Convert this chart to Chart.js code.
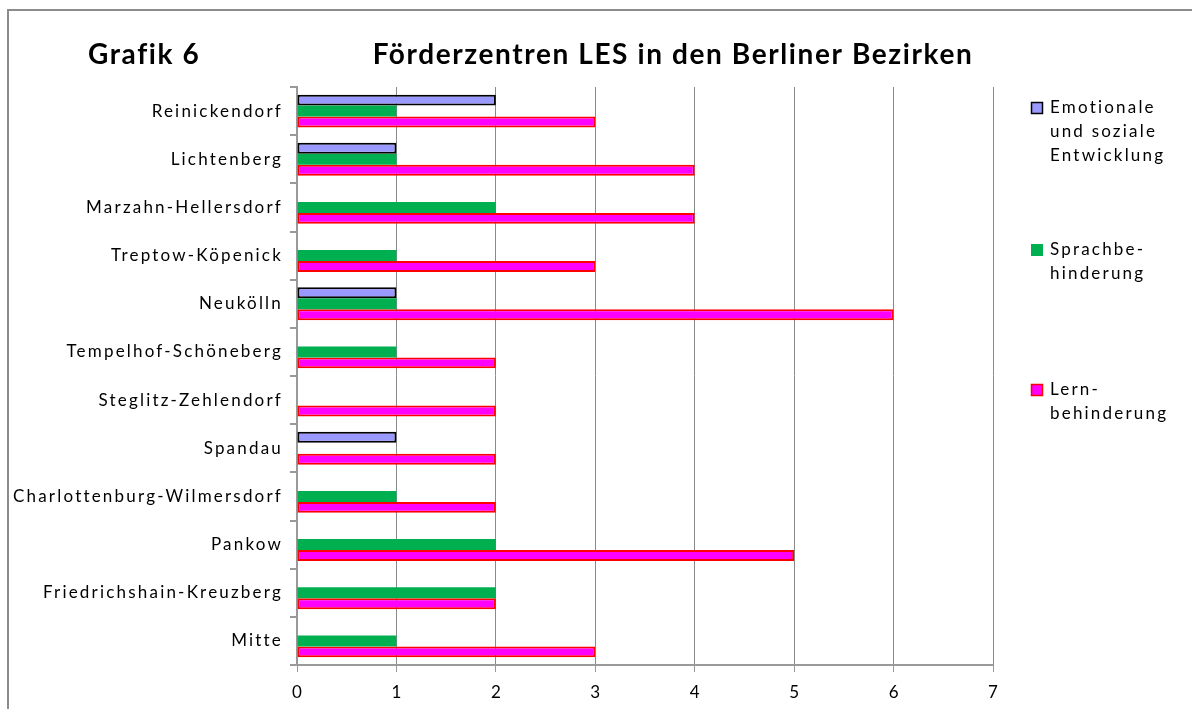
<!DOCTYPE html>
<html>
<head>
<meta charset="utf-8">
<script src="https://cdn.jsdelivr.net/npm/chart.js@4.4.1/dist/chart.umd.min.js"></script>
<style>
  html, body { margin: 0; padding: 0; background: #fff; overflow: hidden; }
  #wrap { position: relative; width: 1192px; height: 709px; }
  #frame { position: absolute; left: 7px; top: 9px; width: 1300px; height: 800px; border-left: 2px solid #8c8c8c; border-top: 2px solid #8c8c8c; box-sizing: border-box; pointer-events: none; }
  canvas { position: absolute; left: 0; top: 0; }
</style>
</head>
<body>
<div id="wrap">
  <canvas id="c" width="1192" height="709"></canvas>
  <div id="frame"></div>
</div>
<script>
const categories = [
  "Reinickendorf", "Lichtenberg", "Marzahn-Hellersdorf", "Treptow-Köpenick",
  "Neukölln", "Tempelhof-Schöneberg", "Steglitz-Zehlendorf", "Spandau",
  "Charlottenburg-Wilmersdorf", "Pankow", "Friedrichshain-Kreuzberg", "Mitte"
];
const emotionaleValues = [2, 1, 0, 0, 1, 0, 0, 1, 0, 0, 0, 0];
const sprachValues     = [1, 1, 2, 1, 1, 1, 0, 0, 1, 2, 2, 1];
const lernValues       = [3, 4, 4, 3, 6, 2, 2, 2, 2, 5, 2, 3];
const seriesLabels = [
  ["Emotionale", "und soziale", "Entwicklung"],
  ["Sprachbe-", "hinderung"],
  ["Lern-", "behinderung"]
];
const xTicks = [0, 1, 2, 3, 4, 5, 6, 7];
const titleLeft = "Grafik 6";
const titleMain = "Förderzentren LES in den Berliner Bezirken";

const FONT = "Lato, 'Open Sans', sans-serif";

const titlePlugin = {
  id: 'titles',
  afterDraw(chart) {
    const ctx = chart.ctx;
    ctx.save();
    ctx.fillStyle = '#000';
    ctx.font = "bold 28px " + FONT;
    ctx.letterSpacing = '1.6px';
    ctx.textBaseline = 'alphabetic';
    ctx.textAlign = 'left';
    ctx.fillText(titleLeft, 88, 64);
    ctx.textAlign = 'center';
    ctx.fillText(titleMain, 673, 64);
    ctx.restore();
  }
};

const legendPlugin = {
  id: 'customLegend',
  afterDraw(chart) {
    const ctx = chart.ctx;
    const startY = [108, 250, 390];
    ctx.save();
    ctx.font = "17px " + FONT;
    ctx.letterSpacing = '2.2px';
    ctx.textBaseline = 'middle';
    ctx.textAlign = 'left';
    chart.data.datasets.forEach((ds, i) => {
      const y = startY[i];
      ctx.fillStyle = ds.backgroundColor;
      ctx.fillRect(1031, y - 6, 12, 12);
      if (ds.legendBorder) {
        ctx.strokeStyle = ds.legendBorder;
        ctx.lineWidth = 1.5;
        ctx.strokeRect(1031.5, y - 5.5, 11, 11);
      }
      ctx.fillStyle = '#000';
      ds.label.forEach((line, j) => {
        ctx.fillText(line, 1050, y + j * 24);
      });
    });
    ctx.restore();
  }
};

function spacedLabels(scale) {
  if (scale._spacedWrapped) return;
  scale._spacedWrapped = true;
  const orig = scale.drawLabels;
  scale.drawLabels = function (area) {
    const ctx = this.ctx;
    ctx.save();
    ctx.letterSpacing = '2.2px';
    orig.call(this, area);
    ctx.restore();
  };
}

new Chart(document.getElementById('c'), {
  type: 'bar',
  data: {
    labels: categories,
    datasets: [
      {
        label: seriesLabels[0],
        data: emotionaleValues,
        backgroundColor: '#9999FF',
        borderColor: '#000000',
        legendBorder: '#000000',
        borderWidth: c => (c.raw ? 2 : 0),
        borderSkipped: false
      },
      {
        label: seriesLabels[1],
        data: sprachValues,
        backgroundColor: '#00B050',
        borderWidth: 0
      },
      {
        label: seriesLabels[2],
        data: lernValues,
        backgroundColor: '#FF00FF',
        borderColor: '#FF0000',
        legendBorder: '#FF0000',
        borderWidth: c => (c.raw ? 2 : 0),
        borderSkipped: false
      }
    ]
  },
  options: {
    indexAxis: 'y',
    responsive: false,
    animation: false,
    devicePixelRatio: 1,
    categoryPercentage: 0.68,
    barPercentage: 1.0,
    layout: { padding: { left: 0, right: 199, top: 87, bottom: 0 } },
    plugins: {
      legend: { display: false },
      title: { display: false },
      tooltip: { enabled: false }
    },
    scales: {
      x: {
        min: 0,
        max: 7,
        afterBuildTicks: s => { s.ticks = xTicks.map(v => ({ value: v })); },
        afterFit: s => { s.height = 44; },
        border: { display: true, color: '#999999', width: 2 },
        grid: { color: '#8a8a8a', lineWidth: 1, drawTicks: true, tickLength: 7, tickColor: '#999999' },
        ticks: { color: '#000', font: { family: FONT, size: 17 }, padding: 10 }
      },
      y: {
        offset: true,
        afterFit: s => { s.width = 297; },
        afterUpdate: spacedLabels,
        border: { display: true, color: '#999999', width: 2 },
        grid: { offset: true, drawOnChartArea: false, drawTicks: true, tickLength: 7, tickColor: '#999999', lineWidth: 2 },
        ticks: { color: '#000', font: { family: FONT, size: 17 }, padding: 7 }
      }
    }
  },
  plugins: [titlePlugin, legendPlugin]
});
</script>
</body>
</html>
